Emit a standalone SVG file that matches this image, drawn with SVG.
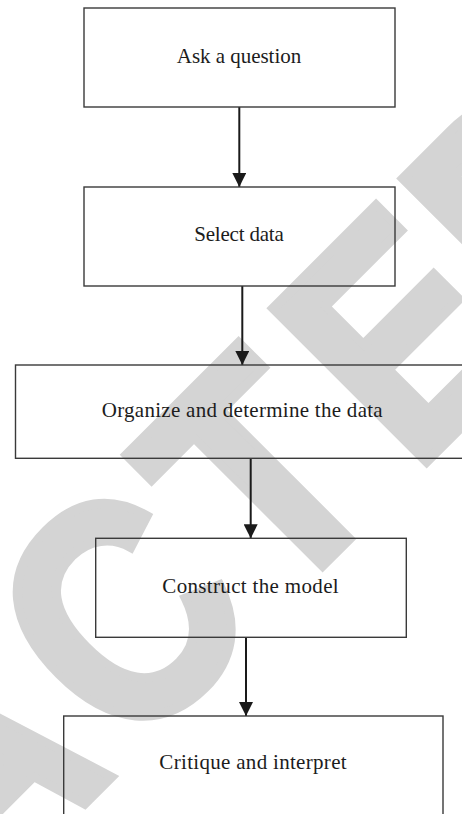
<svg xmlns="http://www.w3.org/2000/svg" width="462" height="814" viewBox="0 0 462 814">
<defs>
<style>
.box{fill:none;stroke:#3a3a3a;stroke-width:1.4}
.lbl{font-family:"Liberation Serif","Times New Roman",serif;font-size:21px;fill:#1c1c1c;text-anchor:middle}
.conn{stroke:#1a1a1a;stroke-width:2;fill:none}
.wm{font-family:"Liberation Sans",Arial,sans-serif;font-weight:bold;font-size:315px;fill:#d4d4d4;stroke:#d4d4d4;stroke-width:10;stroke-linejoin:miter}
</style>
<marker id="ah" markerWidth="14" markerHeight="14" viewBox="0 0 14 14" refX="14" refY="7" orient="auto" markerUnits="userSpaceOnUse">
<path d="M0,0 L14,7 L0,14 Z" fill="#1a1a1a"/>
</marker>
</defs>
<rect width="462" height="814" fill="#fff"/>
<g id="watermark" transform="rotate(-45) scale(0.86,1)">
<text class="wm" x="-1623.6 -1396.2 -1186 -993.6 -766.2 -519.1 -274.1 -50.5 163" y="628">RETRACTED</text>
</g>
<g id="connectors">
<line class="conn" x1="239.3" y1="107" x2="239.3" y2="187" marker-end="url(#ah)"/>
<line class="conn" x1="242.3" y1="286" x2="242.3" y2="365" marker-end="url(#ah)"/>
<line class="conn" x1="250.7" y1="458" x2="250.7" y2="538.3" marker-end="url(#ah)"/>
<line class="conn" x1="246" y1="637.3" x2="246" y2="716" marker-end="url(#ah)"/>
</g>
<g id="n1">
<rect class="box" x="84" y="8" width="311" height="99"/>
<text class="lbl" x="239" y="63" textLength="124.3">Ask a question</text>
</g>
<g id="n2">
<rect class="box" x="84" y="187" width="311" height="99"/>
<text class="lbl" x="239" y="240.7" textLength="89.7">Select data</text>
</g>
<g id="n3">
<rect class="box" x="15.5" y="365" width="460" height="93.3"/>
<text class="lbl" x="242.2" y="416.7" textLength="281">Organize and determine the data</text>
</g>
<g id="n4">
<rect class="box" x="95.7" y="538.3" width="310.6" height="99"/>
<text class="lbl" x="250.5" y="592.7" textLength="176.3">Construct the model</text>
</g>
<g id="n5">
<rect class="box" x="63.7" y="716" width="379.3" height="120"/>
<text class="lbl" x="253" y="769.3" textLength="187.3">Critique and interpret</text>
</g>
</svg>
